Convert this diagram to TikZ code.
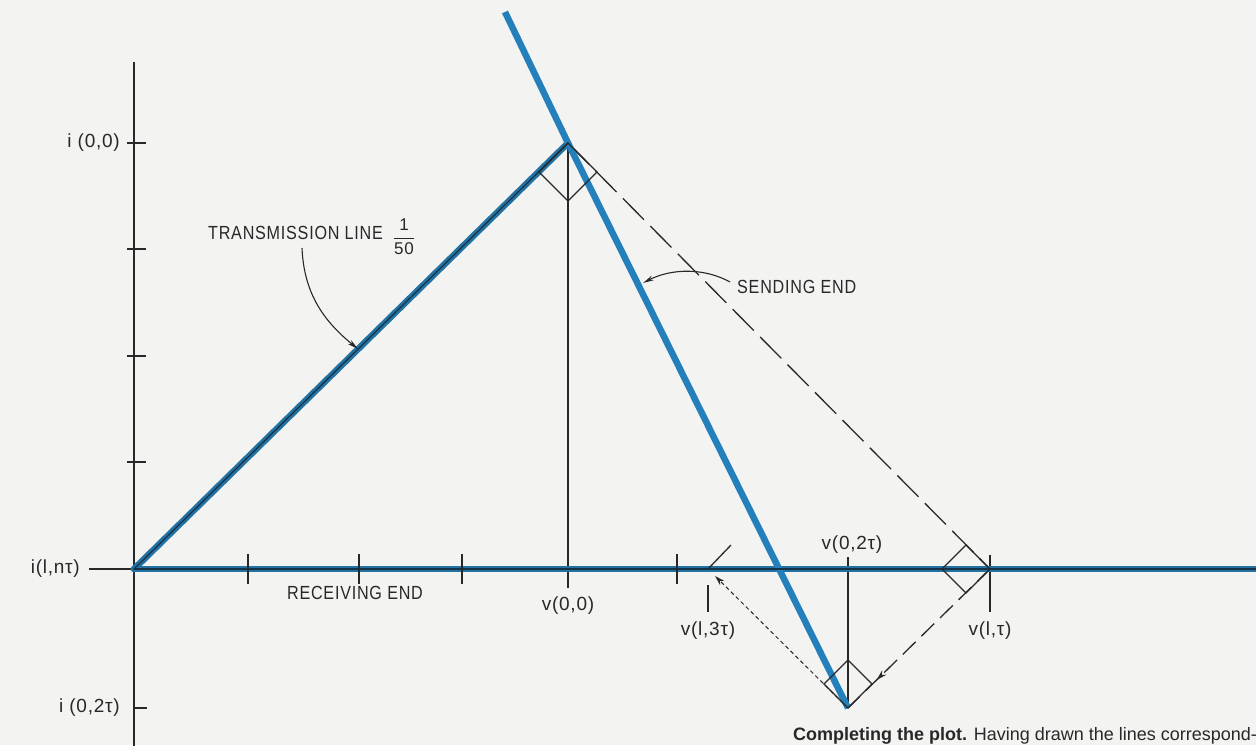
\documentclass[tikz,border=0pt]{standalone}
\usepackage{fontspec}
\setmainfont{Liberation Sans}
\newfontfamily\capfont[FakeStretch=0.85,LetterSpace=4]{Liberation Sans}
\newfontfamily\lblfont[LetterSpace=4]{Liberation Sans}
\usetikzlibrary{arrows.meta,decorations.markings}
\definecolor{lineblue}{RGB}{34,114,164}
\definecolor{sendblue}{RGB}{36,128,186}
\definecolor{ink}{RGB}{40,40,40}
\definecolor{core}{RGB}{22,50,70}
\definecolor{paper}{RGB}{243,244,242}
\begin{document}
\begin{tikzpicture}[x=1pt,y=-1pt,
  thinline/.style={draw=ink,line width=1.3pt},
  tickline/.style={draw=ink,line width=1.3pt},
  blueband/.style={draw=lineblue,line width=6.5pt,line cap=round,line join=round},
  bluecore/.style={draw=core,line width=1.2pt,line cap=round,line join=round},
  sendband/.style={draw=sendblue,line width=6.5pt},
  longdash/.style={draw=ink,line width=1.3pt,dash pattern=on 30pt off 9pt},
  shortdash/.style={draw=ink,line width=1.3pt,dash pattern=on 18pt off 8pt},
  finedot/.style={draw=ink,line width=1pt,dash pattern=on 4pt off 3pt},
  leader/.style={draw=ink,line width=1.1pt,-{Stealth[length=11pt,width=5pt]}},
  caplbl/.style={font=\capfont\fontsize{19}{19}\selectfont,text=ink,inner sep=0pt},
  axlbl/.style={font=\lblfont\fontsize{19}{19}\selectfont,text=ink,inner sep=0pt},
  mark arrow/.style={postaction=decorate,decoration={markings,
     mark=at position #1 with {\arrow{Stealth[length=11pt,width=6pt]}}}}
]
\fill[paper] (0,0) rectangle (1256,745);
\useasboundingbox (0,0) rectangle (1256,745);

% key points
\coordinate (O) at (134,569);
\coordinate (A) at (568,143);
\coordinate (S0) at (505,12);
\coordinate (B) at (848,708);
\coordinate (R1) at (990,569);
\coordinate (R3) at (708,569);
\coordinate (Ytop) at (134,62);
\coordinate (Ybot) at (134,746);
\coordinate (Xend) at (1257,569);
\coordinate (Xleft) at (89,569);
\coordinate (T1) at (358,349);
\coordinate (T2) at (643,283);
\coordinate (L1) at (302,248);
\coordinate (L2) at (730,282);

% vertical axis and ticks
\draw[thinline] (Ytop) -- (Ybot);
\draw[thinline] (Xleft) -- (O);
\foreach \yy in {143,249,356,462} \draw[tickline] (127,\yy) -- (146,\yy);
\draw[tickline] (134,708) -- (147,708);

% drop lines
\draw[thinline] (A) -- (568,588);
\draw[thinline] (848,557) -- (B);
\draw[thinline] (990,555) -- (990,612);
\draw[thinline] (708,585) -- (708,612);

% dashed construction lines
\draw[longdash] (A) -- (R1);
\draw[shortdash,mark arrow=0.8] (R1) -- (B);
\draw[finedot,-{Stealth[length=10pt,width=6pt]},shorten >=10pt] (B) -- (R3);

% blue lines
\draw[blueband] (O) -- (Xend);
\draw[blueband] (O) -- (A);
\draw[sendband] (S0) -- (A) -- (B);
\draw[bluecore] (O) -- (Xend);
\draw[bluecore] (O) -- (A);

% ticks on horizontal axis
\foreach \xx in {248,359,462,677} \draw[tickline] (\xx,554) -- (\xx,584);

% right-angle markers
\draw[thinline] (A) -- ++(-29,29) -- ++(29,29) -- ++(29,-29) -- cycle;
\draw[thinline] (R1) -- ++(-24,-24) -- ++(-24,24) -- ++(24,24) -- cycle;
\draw[thinline] (B) -- ++(-24,-24) -- ++(24,-24) -- ++(24,24) -- cycle;
\draw[thinline] (R3) -- ++(23,-24);

% labels
\node[axlbl,anchor=east] (i00) at (120,143) {i (0,0)};
\node[axlbl,anchor=east] (ilnt) at (80,569) {i(l,nτ)};
\node[axlbl,anchor=east] (i02t) at (120,708) {i (0,2τ)};
\node[caplbl,anchor=west] (tl) at (208,233) {TRANSMISSION LINE};
\node[inner sep=0pt,text=ink,font=\lblfont\fontsize{17}{17}\selectfont] (frac) at (404,237)
  {${\displaystyle\frac{\hbox{1}}{\hbox{50}}}$};
\node[caplbl,anchor=west] (se) at (737,287) {SENDING END};
\node[caplbl] (re) at (355,593) {RECEIVING END};
\node[axlbl] (v00) at (568,606) {v(0,0)};
\node[axlbl] (v02t) at (852,545) {v(0,2τ)};
\node[axlbl] (vl3t) at (708,631) {v(l,3τ)};
\node[axlbl] (vlt) at (990,631) {v(l,τ)};

% leaders
\draw[leader] (L1) .. controls (304,295) and (325,322) .. (T1);
\draw[leader] (L2) .. controls (705,268) and (672,268) .. (T2);

% caption
\node[anchor=base west,inner sep=0pt,font=\fontsize{18}{18}\selectfont,text=ink] (cap) at (793,740)
  {\textbf{Completing the plot.} Having drawn the lines correspond-};
\end{tikzpicture}
\end{document}
